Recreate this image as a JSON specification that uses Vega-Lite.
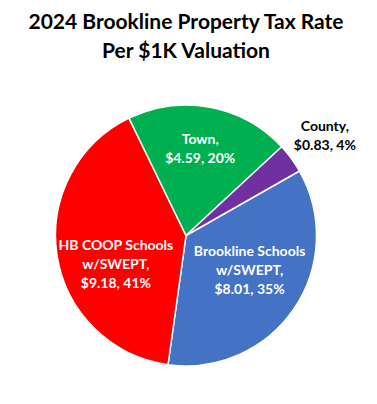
{
  "$schema": "https://vega.github.io/schema/vega-lite/v6.json",
  "width": 372,
  "height": 337,
  "padding": {"top": 12, "left": 0, "right": 5, "bottom": 0},
  "background": "white",
  "config": {"view": {"stroke": null}},
  "title": {
    "text": ["2024 Brookline Property Tax Rate", "Per $1K Valuation"],
    "font": "Lato",
    "fontSize": 21,
    "fontWeight": "bold",
    "lineHeight": 29,
    "color": "black",
    "offset": 5,
    "frame": "group",
    "anchor": "middle"
  },
  "data": {
    "values": [
      {"name": "Brookline Schools", "rate": 8.01, "order": 1, "label": "Brookline Schools\nw/SWEPT,\n$8.01, 35%"},
      {"name": "HB COOP Schools", "rate": 9.18, "order": 2, "label": "HB COOP Schools\nw/SWEPT,\n$9.18, 41%"},
      {"name": "Town", "rate": 4.59, "order": 3, "label": "Town,\n$4.59, 20%"},
      {"name": "County", "rate": 0.83, "order": 4, "label": "County,\n$0.83, 4%"}
    ]
  },
  "encoding": {
    "theta": {"field": "rate", "type": "quantitative", "stack": true, "scale": {"range": [1.054, 7.337]}},
    "order": {"field": "order", "type": "quantitative"}
  },
  "layer": [
    {
      "mark": {"type": "arc", "radius": 130.5, "stroke": "white", "strokeWidth": 1.5},
      "encoding": {
        "color": {
          "field": "name",
          "type": "nominal",
          "scale": {"domain": ["Brookline Schools", "HB COOP Schools", "Town", "County"], "range": ["#4472C4", "#FF0000", "#00B050", "#7030A0"]},
          "legend": null
        }
      }
    },
    {
      "mark": {"type": "text", "radius": 72, "dx": 4, "dy": -24, "font": "Lato", "fontWeight": "bold", "fontSize": 14, "lineHeight": 19, "lineBreak": "\n", "color": "white", "align": "center", "baseline": "middle"},
      "encoding": {"text": {"condition": {"test": "datum.name === 'Brookline Schools'", "field": "label", "type": "nominal"}, "value": ""}}
    },
    {
      "mark": {"type": "text", "radius": 71, "dx": 0, "dy": -1, "font": "Lato", "fontWeight": "bold", "fontSize": 14, "lineHeight": 19, "lineBreak": "\n", "color": "white", "align": "center", "baseline": "middle"},
      "encoding": {"text": {"condition": {"test": "datum.name === 'HB COOP Schools'", "field": "label", "type": "nominal"}, "value": ""}}
    },
    {
      "mark": {"type": "text", "radius": 88, "dx": -2, "dy": -9.5, "font": "Lato", "fontWeight": "bold", "fontSize": 14, "lineHeight": 19, "lineBreak": "\n", "color": "white", "align": "center", "baseline": "middle"},
      "encoding": {"text": {"condition": {"test": "datum.name === 'Town'", "field": "label", "type": "nominal"}, "value": ""}}
    },
    {
      "mark": {"type": "text", "radius": 130, "dx": 34, "dy": -31.5, "font": "Lato", "fontWeight": "bold", "fontSize": 14, "lineHeight": 19, "lineBreak": "\n", "color": "black", "align": "center", "baseline": "middle"},
      "encoding": {"text": {"condition": {"test": "datum.name === 'County'", "field": "label", "type": "nominal"}, "value": ""}}
    }
  ]
}
